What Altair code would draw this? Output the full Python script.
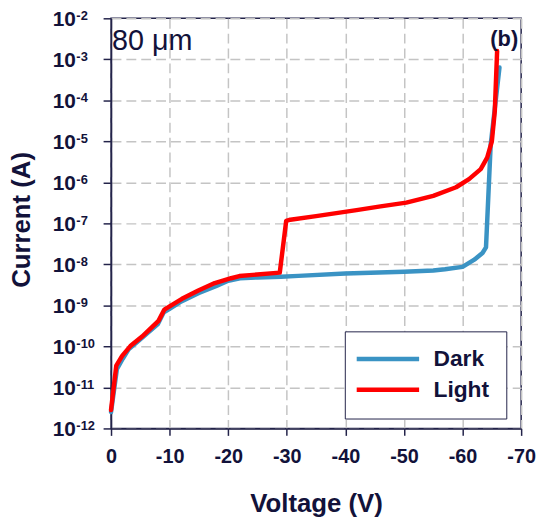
import altair as alt
import pandas as pd

# ---- data ----
dark_v = [0, -1, -2, -3, -5, -8, -9, -10, -12, -15, -18, -20, -22, -25, -29, -32,
          -40, -50, -55, -57, -60, -62, -63.4, -64, -64.8, -66.3]
dark_i = [2.5e-12, 2.8e-11, 5.0e-11, 8.5e-11, 1.5e-10, 3.5e-10, 6.8e-10, 8.3e-10,
          1.25e-9, 2.0e-9, 3.0e-9, 4.0e-9, 4.6e-9, 4.8e-9, 5.0e-9, 5.25e-9,
          6.0e-9, 6.6e-9, 7.1e-9, 7.6e-9, 8.7e-9, 1.3e-8, 1.9e-8, 2.6e-8, 8.3e-6, 6.3e-4]

light_v = [0, -0.9, -1.9, -3.3, -5.3, -8.1, -9.1, -10, -12.1, -14.9, -17.7, -20.5,
           -21.9, -28.8, -29.9, -30.6, -35, -41.9, -46, -50.4, -55, -58.9, -61.1,
           -63.1, -64.2, -65.0, -65.5, -65.9]
light_i = [2.8e-12, 3.4e-11, 5.9e-11, 1.02e-10, 1.74e-10, 4.2e-10, 7.9e-10, 9.5e-10,
           1.45e-9, 2.3e-9, 3.5e-9, 4.6e-9, 5.2e-9, 6.3e-9, 1.15e-7, 1.23e-7, 1.5e-7,
           2.1e-7, 2.6e-7, 3.2e-7, 4.7e-7, 7.6e-7, 1.2e-6, 2.1e-6, 4.0e-6, 1.0e-5,
           5.4e-5, 1.6e-3]

series_names = ["Dark", "Light"]
series_colors = ["#3a93c4", "#ff0000"]

x_ticks = [0, -10, -20, -30, -40, -50, -60, -70]
y_ticks = [1e-12, 1e-11, 1e-10, 1e-9, 1e-8, 1e-7, 1e-6, 1e-5, 1e-4, 1e-3, 1e-2]
y_exponents = ["-12", "-11", "-10", "-9", "-8", "-7", "-6", "-5", "-4", "-3", "-2"]

panel_label = ["80 \u03bcm"]
panel_tag = ["(b)"]

# ---- tables ----
rows = []
for k, (v, c) in enumerate(zip(dark_v, dark_i)):
    rows.append({"series": "Dark", "V": v, "I": c, "k": k})
for k, (v, c) in enumerate(zip(light_v, light_i)):
    rows.append({"series": "Light", "V": v, "I": c, "k": k})
df = pd.DataFrame(rows)
exp_df = pd.DataFrame({"I": y_ticks, "e": y_exponents})

TEXT = "#12123a"
BORDER = "#23234a"
GRID = "#c4c4c4"
FONT = "Liberation Sans"

xscale = alt.Scale(domain=[0, -70], nice=False, zero=False)
yscale = alt.Scale(type="log", domain=[1e-12, 1e-2], nice=False)

y_axis = alt.Axis(values=y_ticks, title="Current (A)", labelExpr="'10'",
                  tickSize=8, labelPadding=28, labelFontSize=21,
                  labelBaseline="middle", labelOffset=1.5,
                  titleX=-90, titleY=203, titleAngle=270,
                  titleBaseline="middle", titleAlign="center")

lines = alt.Chart(df).mark_line(strokeWidth=4.5, strokeJoin="round", strokeCap="round").encode(
    x=alt.X("V:Q", scale=xscale,
            axis=alt.Axis(values=x_ticks, title="Voltage (V)",
                          labelExpr="datum.value == 0 ? '0' : '-' + abs(datum.value)",
                          tickSize=7, labelPadding=11, labelFontSize=20,
                          titleX=207, titleY=84, titleBaseline="alphabetic",
                          titleAlign="center")),
    y=alt.Y("I:Q", scale=yscale, axis=y_axis),
    color=alt.Color("series:N",
                    scale=alt.Scale(domain=series_names, range=series_colors),
                    legend=alt.Legend(title=None, orient="none", legendX=236, legendY=316,
                                      symbolType="M-2,0H5.875", symbolSize=256,
                                      symbolStrokeWidth=4.5, symbolOffset=0,
                                      labelFontSize=23, labelFont=FONT,
                                      labelFontWeight="bold", labelColor=TEXT,
                                      labelOffset=50, padding=16.5, rowPadding=7,
                                      strokeColor=BORDER, fillColor="white",
                                      cornerRadius=0)),
    order="k:Q",
)

exps = alt.Chart(exp_df).mark_text(align="left", baseline="alphabetic", fontSize=13,
                                   fontWeight="bold", font=FONT, color=TEXT, dy=1.5).encode(
    x=alt.value(-35),
    y=alt.Y("I:Q", scale=yscale, axis=y_axis),
    text="e:N",
)

ann = alt.Chart(pd.DataFrame({"t": panel_label})).mark_text(
    align="left", baseline="alphabetic", fontSize=29, font=FONT, color=TEXT).encode(
    x=alt.value(1), y=alt.value(32), text="t:N")

tag = alt.Chart(pd.DataFrame({"t": panel_tag})).mark_text(
    align="right", baseline="alphabetic", fontSize=22, fontWeight="bold",
    font=FONT, color=TEXT).encode(
    x=alt.value(411), y=alt.value(27.5), text="t:N")

chart = alt.layer(lines, exps, ann, tag).properties(
    width=414, height=414, autosize="none",
    padding={"left": 104, "top": 8, "right": 16, "bottom": 89},
    background="white",
).configure_view(
    stroke=BORDER, strokeWidth=1.5
).configure_axis(
    grid=True, gridColor=GRID, gridDash=[10, 5], gridWidth=1.5,
    domainColor=BORDER, domainWidth=1.5, tickColor=BORDER, tickWidth=1.5,
    labelFont=FONT, labelFontWeight="bold", labelColor=TEXT,
    labelFlush=False, labelOverlap=False,
    titleFont=FONT, titleFontSize=26, titleFontWeight="bold", titleColor=TEXT,
)

chart.save("out.html", embed_options={"renderer": "svg", "actions": False})
